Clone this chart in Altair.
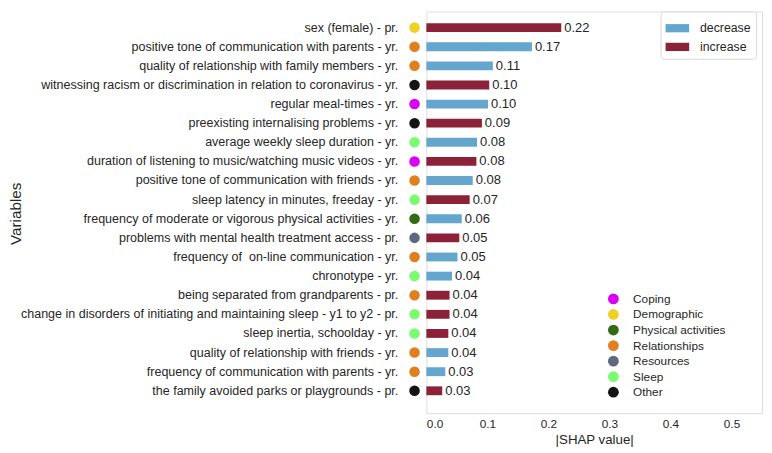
import altair as alt
import pandas as pd

variables = [
    "sex (female) - pr.",
    "positive tone of communication with parents - yr.",
    "quality of relationship with family members - yr.",
    "witnessing racism or discrimination in relation to coronavirus - yr.",
    "regular meal-times - yr.",
    "preexisting internalising problems - yr.",
    "average weekly sleep duration - yr.",
    "duration of listening to music/watching music videos - yr.",
    "positive tone of communication with friends - yr.",
    "sleep latency in minutes, freeday - yr.",
    "frequency of moderate or vigorous physical activities - yr.",
    "problems with mental health treatment access - pr.",
    "frequency of \u00a0on-line communication - yr.",
    "chronotype - yr.",
    "being separated from grandparents - pr.",
    "change in disorders of initiating and maintaining sleep - y1 to y2 - pr.",
    "sleep inertia, schoolday - yr.",
    "quality of relationship with friends - yr.",
    "frequency of communication with parents - yr.",
    "the family avoided parks or playgrounds - pr.",
]
shap_values = [0.221, 0.173, 0.109, 0.103, 0.101, 0.091, 0.083, 0.082, 0.076, 0.071,
               0.058, 0.054, 0.051, 0.042, 0.038, 0.038, 0.036, 0.036, 0.031, 0.026]
direction = ["increase", "decrease", "decrease", "increase", "decrease", "increase",
             "decrease", "increase", "decrease", "increase", "decrease", "increase",
             "decrease", "decrease", "increase", "increase", "increase", "decrease",
             "decrease", "increase"]
categories = ["Demographic", "Relationships", "Relationships", "Other", "Coping", "Other",
              "Sleep", "Coping", "Relationships", "Sleep", "Physical activities", "Resources",
              "Relationships", "Sleep", "Relationships", "Sleep", "Sleep", "Relationships",
              "Relationships", "Other"]

category_order = ["Coping", "Demographic", "Physical activities", "Relationships",
                  "Resources", "Sleep", "Other"]
category_colors = ["#d800f5", "#efd024", "#336b14", "#e07f20", "#5f697d", "#7cfb70", "#141414"]
direction_order = ["decrease", "increase"]
direction_colors = ["#64a6cd", "#8b2238"]
x_ticks = [0.0, 0.1, 0.2, 0.3, 0.4, 0.5]

df = pd.DataFrame({
    "variable": variables,
    "value": shap_values,
    "direction": direction,
    "category": categories,
})

FONT = "Liberation Sans"
TXT = "#262626"

y_enc = alt.Y(
    "variable:N", sort=variables, title="Variables",
    scale=alt.Scale(paddingInner=0, paddingOuter=0.505, align=0.34),
    axis=alt.Axis(ticks=False, domain=False, labelPadding=29, labelFontSize=12.7,
                  labelLimit=500, labelColor=TXT, labelFont=FONT,
                  titleFontSize=15.5, titleFontWeight="normal", titleColor=TXT,
                  titleFont=FONT, titleX=-409, titleY=205),
)
x_enc = alt.X(
    "value:Q", title="|SHAP value|",
    scale=alt.Scale(domain=[0, 0.55], nice=False, zero=True),
    axis=alt.Axis(values=x_ticks, format=".1f", ticks=False, domain=False, grid=False,
                  labelPadding=6, labelFontSize=12, labelColor=TXT, labelFont=FONT,
                  titleFontSize=13.5, titleFontWeight="normal", titleColor=TXT,
                  titleFont=FONT, titlePadding=3),
)

bars = alt.Chart(df).mark_bar(size=9).encode(
    y=y_enc,
    x=x_enc,
    color=alt.Color(
        "direction:N",
        scale=alt.Scale(domain=direction_order, range=direction_colors),
        legend=alt.Legend(
            title=None, orient="none", legendX=238, legendY=0,
            symbolType="M-1,-0.35H1V0.35H-1Z", symbolSize=576,
            symbolStrokeWidth=0, symbolOpacity=1,
            labelFontSize=12.5, labelFont=FONT, labelColor=TXT, labelOffset=11,
            strokeColor="#d6d6d6", fillColor="white", cornerRadius=3, padding=5,
            rowPadding=-1,
        ),
    ),
)

labels = alt.Chart(df).mark_text(
    align="left", baseline="middle", dx=3, fontSize=13.2, font=FONT, color=TXT
).encode(
    y=alt.Y("variable:N", sort=variables),
    x=alt.X("value:Q"),
    text=alt.Text("value:Q", format=".2f"),
)

dots = alt.Chart(df).mark_circle(size=115, opacity=1).encode(
    y=alt.Y("variable:N", sort=variables),
    x=alt.value(-12),
    fill=alt.Fill(
        "category:N",
        scale=alt.Scale(domain=category_order, range=category_colors),
        legend=alt.Legend(
            title=None, orient="none", legendX=184, legendY=286,
            symbolType="circle", symbolSize=120, symbolStrokeWidth=0, symbolOpacity=1,
            labelFontSize=12, labelFont=FONT, labelColor=TXT, labelOffset=14,
            padding=0, rowPadding=3.8,
        ),
    ),
)

chart = alt.layer(bars, labels, dots).properties(
    width=341, height=408,
    autosize=alt.AutoSizeParams(type="none"),
    padding={"left": 425, "right": 2, "top": 0, "bottom": 37},
).configure_view(
    stroke="#444444", strokeWidth=1
).configure(background="white")

chart.save("out.html", embed_options={"renderer": "svg", "actions": False})
